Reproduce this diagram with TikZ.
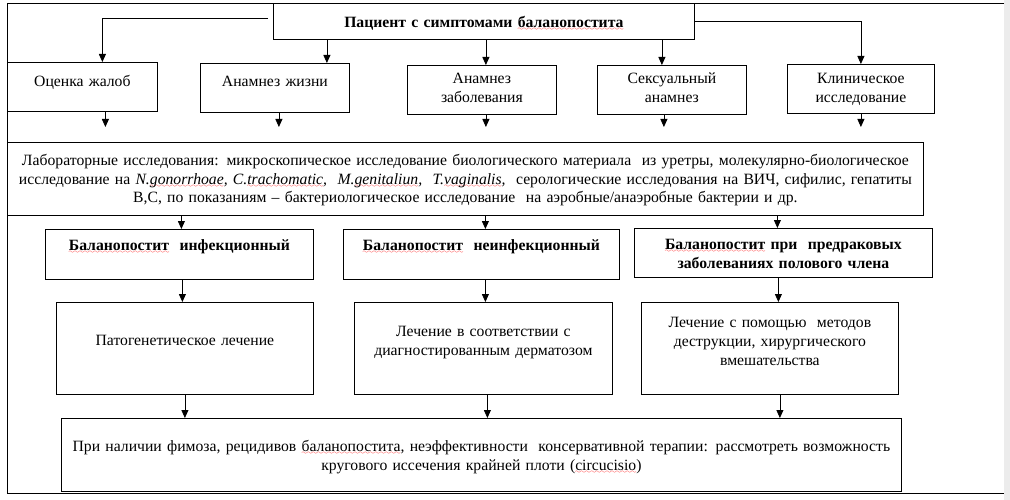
\documentclass[tikz,border=0pt]{standalone}
\usepackage{fontspec}
\setmainfont{Liberation Serif}
\usetikzlibrary{arrows.meta}
\font\wavefont=lasy6
\newsavebox\sqbox
\tikzstyle{box} = [draw, line width=.8pt, anchor=north west, inner sep=0pt, align=center, font=\fontsize{15.7}{18.8}\selectfont]
\tikzstyle{bbox} = [box, font=\fontsize{15.7}{18.8}\selectfont\bfseries]
\tikzstyle{arr} = [line width=.8pt, -{Triangle[length=8pt,width=7pt]}]
\newcommand{\sq}[1]{\sbox\sqbox{#1}\rlap{\textcolor{red}{\lower3.5pt\hbox to\wd\sqbox{\xleaders\hbox{\wavefont\char58}\hfil}}}\usebox\sqbox}

\begin{document}
\begin{tikzpicture}[x=1pt, y=-1pt]
	\useasboundingbox (0,0) rectangle (1010,500);
	\fill[gray!15] (1004,0) rectangle (1010,500);
	\draw[line width=.8pt] (1004,3) -- (7,3) -- (7,493) -- (1004,493);

	\node[bbox, text width=421pt, text height=24pt, text depth=12pt] (patient) at (273,3) {Пациент с симптомами \sq{баланопостита}};

	\node[box, text width=150pt, text height=24pt, text depth=25pt] (complaints) at (7,62) {Оценка жалоб};
	\node[box, text width=149pt, text height=23pt, text depth=26pt] (lifehist) at (200,63) {Анамнез жизни};
	\node[box, text width=149pt, text height=18pt, text depth=31pt] (diseasehist) at (407,65) {Анамнез\\ заболевания};
	\node[box, text width=149pt, text height=18pt, text depth=31pt] (sexhist) at (597,65) {Сексуальный\\ анамнез};
	\node[box, text width=147pt, text height=19pt, text depth=30pt] (clinical) at (787,64) {Клиническое\\ исследование};

	\node[box, text width=916pt, text height=23pt, text depth=50pt] (lab) at (7,142) {Лабораторные исследования: микроскопическое исследование биологического материала\ \ из уретры, молекулярно-биологическое\\
		исследование на \textit{N.\sq{gonorrhoae},} \textit{C.\sq{trachomatic},}\ \ \textit{M.\sq{genitaliun},}\ \ \textit{T.\sq{vaginalis},}\ \ серологические исследования на ВИЧ, сифилис, гепатиты\\
		В,С, по показаниям -- бактериологическое исследование\ \ на аэробные/анаэробные бактерии и др.};

	\node[bbox, text width=268pt, text height=21pt, text depth=29pt] (infect) at (45,229) {\sq{Баланопостит}\ \ инфекционный};
	\node[bbox, text width=276pt, text height=21pt, text depth=29pt] (noninfect) at (343,229) {\sq{Баланопостит}\ \ неинфекционный};
	\node[bbox, text width=298pt, text height=21pt, text depth=28pt] (precancer) at (634,228) {\sq{Баланопостит} при\ \ предраковых\\ заболеваниях полового члена};

	\node[box, text width=257pt, text height=43pt, text depth=49pt] (pathogen) at (56,302) {Патогенетическое лечение};
	\node[box, text width=258pt, text height=34pt, text depth=58pt] (dermatosis) at (354,302) {Лечение в соответствии с\\ диагностированным дерматозом};
	\node[box, text width=257pt, text height=25pt, text depth=67pt] (destruct) at (641,302) {Лечение с помощью\ \ методов\\ деструкции, хирургического\\ вмешательства};

	\node[box, text width=840pt, text height=33pt, text depth=40pt] (circum) at (61,418) {При наличии фимоза, рецидивов \sq{баланопостита}, неэффективности\ \ консервативной терапии: рассмотреть возможность\\ кругового иссечения крайней плоти (\sq{circucisio})};

	\coordinate (labtop) at (0,127);
	\draw[arr] ([xshift=-5pt,yshift=3pt]patient.west) -| ([xshift=20pt]complaints.north);
	\draw[arr] ([xshift=52pt]lifehist.north |- patient.south) -- ([xshift=52pt]lifehist.north);
	\draw[arr] ([xshift=4pt]diseasehist.north |- patient.south) -- ([xshift=4pt]diseasehist.north);
	\draw[arr] ([xshift=-10pt]sexhist.north |- patient.south) -- ([xshift=-10pt]sexhist.north);
	\draw[arr] (patient.east) -| (clinical.north);

	\foreach \n/\dx in {complaints/23, lifehist/4, diseasehist/4, sexhist/-8, clinical/0}
		\draw[arr] ([xshift=\dx pt]\n.south) -- ([xshift=\dx pt]\n.south |- labtop);
	\foreach \n/\dx in {infect/2, noninfect/4, precancer/-6}
		\draw[arr] ([xshift=\dx pt]\n.north |- lab.south) -- ([xshift=\dx pt]\n.north);
	\foreach \a/\b/\dx in {infect/pathogen/3, noninfect/dermatosis/4, precancer/destruct/-5}
		\draw[arr] ([xshift=\dx pt]\a.south) -- ([xshift=\dx pt]\a.south |- \b.north);
	\foreach \n/\dx in {pathogen/0, dermatosis/4, destruct/10}
		\draw[arr] ([xshift=\dx pt]\n.south) -- ([xshift=\dx pt]\n.south |- circum.north);
\end{tikzpicture}
\end{document}
